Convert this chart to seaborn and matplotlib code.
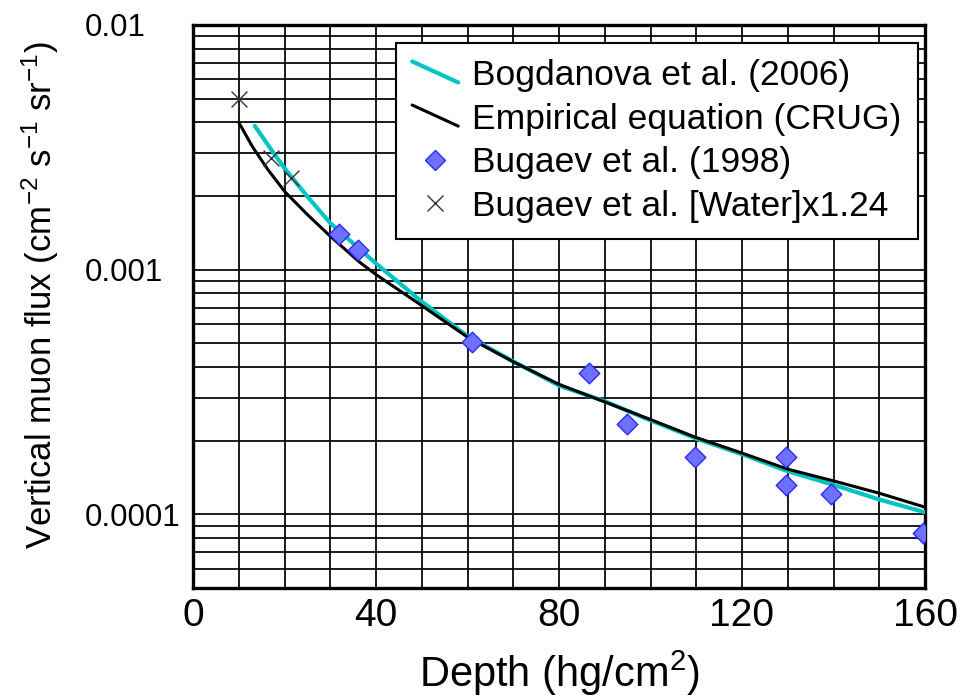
import numpy as np
import pandas as pd
import matplotlib
matplotlib.use("Agg")
import matplotlib.pyplot as plt
import seaborn as sns
from matplotlib.lines import Line2D
from matplotlib.legend_handler import HandlerLine2D
from matplotlib.ticker import FixedLocator, NullFormatter, LogLocator

# ---- data ----
bog_depth = [13.5, 17.6, 20, 24.9, 30, 40, 50, 60, 70, 80, 90, 100, 110, 120, 130, 140, 150, 160]
bog_flux = [0.00387, 0.0030, 0.0026, 0.0020, 0.00155, 0.00106, 0.00074, 0.000535, 0.000422,
            0.000336, 0.00029, 0.000242, 0.000204, 0.000176, 0.00015, 0.000132, 0.000115, 0.000102]

emp_depth = [10, 13, 16.4, 20.1, 25, 30, 36.5, 40, 50, 60, 70, 80, 90, 100, 110, 120, 130, 140, 150, 160]
emp_flux = [0.0040, 0.00318, 0.00256, 0.00208, 0.00168, 0.00137, 0.00107, 0.000955, 0.000713,
            0.00053, 0.00042, 0.00034, 0.000288, 0.000244, 0.000206, 0.000178, 0.000153, 0.000137,
            0.000122, 0.000107]

bug_depth = [32, 36, 61, 86.6, 94.9, 109.7, 129.6, 129.6, 139.5, 159.5]
bug_flux = [0.0014, 0.0012, 0.000504, 0.000377, 0.000234, 0.000172, 0.000172, 0.000132, 0.000121, 0.0000841]

wat_depth = [10, 17.0, 21.35]
wat_flux = [0.005, 0.00286, 0.00237]

labels = ["Bogdanova et al. (2006)", "Empirical equation (CRUG)",
          "Bugaev et al. (1998)", "Bugaev et al. [Water]x1.24"]
xticks = [0, 40, 80, 120, 160]
yticks = [0.0001, 0.001, 0.01]
ytick_labels = ["0.0001", "0.001", "0.01"]

# ---- style ----
sns.set_style("white")
plt.rcParams["font.family"] = ["Liberation Sans", "DejaVu Sans"]
plt.rcParams["mathtext.fontset"] = "custom"
plt.rcParams["mathtext.rm"] = "Liberation Sans"
plt.rcParams["mathtext.it"] = "Liberation Sans"
plt.rcParams["text.color"] = "black"
plt.rcParams["axes.labelcolor"] = "black"
plt.rcParams["xtick.color"] = "black"
plt.rcParams["ytick.color"] = "black"

fig = plt.figure(figsize=(9.6, 7.0), dpi=100)
ax = fig.add_axes([193/960, 1-588/700, (925-193)/960, (588-25)/700])

cyan = "#00c4c4"
sns.lineplot(x=bog_depth, y=bog_flux, ax=ax, color=cyan, lw=3.0, estimator=None, sort=False, zorder=4)
sns.lineplot(x=emp_depth, y=emp_flux, ax=ax, color="black", lw=2.2, estimator=None, sort=False, zorder=5)
sns.scatterplot(x=bug_depth, y=bug_flux, ax=ax, marker="D", s=110, color="#7070ff",
                edgecolor="#2a2aff", linewidth=1.0, zorder=6)
sns.scatterplot(x=wat_depth, y=wat_flux, ax=ax, marker="x", s=130, color="#333333",
                linewidth=1.0, zorder=6)

ax.set_yscale("log")
ax.set_xlim(0, 160)
ax.set_ylim(5e-5, 0.01)

ax.set_xticks(xticks)
ax.set_xticklabels([str(v) for v in xticks])
ax.xaxis.set_minor_locator(FixedLocator(list(range(0, 161, 10))))
ax.set_yticks(yticks)
ax.set_yticklabels(ytick_labels)
ax.yaxis.set_minor_locator(LogLocator(base=10, subs=np.arange(2, 10)))
ax.yaxis.set_minor_formatter(NullFormatter())

ax.grid(True, which="both", color="black", lw=1.25)
ax.set_axisbelow(True)
ax.tick_params(which="both", length=0)
ax.tick_params(axis="x", labelsize=28, pad=7)
ax.tick_params(axis="y", labelsize=22.5, pad=108 * 72 / 100)
for t in ax.get_yticklabels():
    t.set_horizontalalignment("left")
for sp in ax.spines.values():
    sp.set_visible(True)
    sp.set_color("black")
    sp.set_linewidth(2.4)

ax.set_xlabel("Depth (hg/cm$^{2}$)", fontsize=30, labelpad=11)
ax.set_ylabel("Vertical muon flux (cm$^{-2}$ s$^{-1}$ sr$^{-1}$)", fontsize=25)
ax.yaxis.set_label_coords(-132/732, 0.52)


class Sloped(HandlerLine2D):
    def create_artists(self, legend, orig_handle, xdescent, ydescent, width, height, fontsize, trans):
        line = Line2D([-xdescent, -xdescent + width],
                      [-ydescent + height * 0.95, -ydescent + height * 0.1])
        self.update_prop(line, orig_handle, legend)
        line.set_transform(trans)
        return [line]


h_bog = Line2D([], [], color=cyan, lw=3.0)
h_emp = Line2D([], [], color="black", lw=2.2)
h_bug = Line2D([], [], ls="none", marker="D", markersize=10, markerfacecolor="#7070ff",
               markeredgecolor="#2a2aff", markeredgewidth=1.0)
h_wat = Line2D([], [], ls="none", marker="x", markersize=11, color="#333333", markeredgewidth=1.0)

leg = ax.legend([h_bog, h_emp, h_bug, h_wat], labels, loc="upper right",
                bbox_to_anchor=(0.990, 0.968), borderaxespad=0, fontsize=25.5,
                handlelength=1.3, handletextpad=0.4, labelspacing=0.3,
                borderpad=0.45, fancybox=False, framealpha=1, edgecolor="black",
                handler_map={h_bog: Sloped(), h_emp: Sloped()})
leg.get_frame().set_linewidth(1.5)
leg.set_zorder(10)

fig.savefig("out.png", dpi=100, facecolor="white")
